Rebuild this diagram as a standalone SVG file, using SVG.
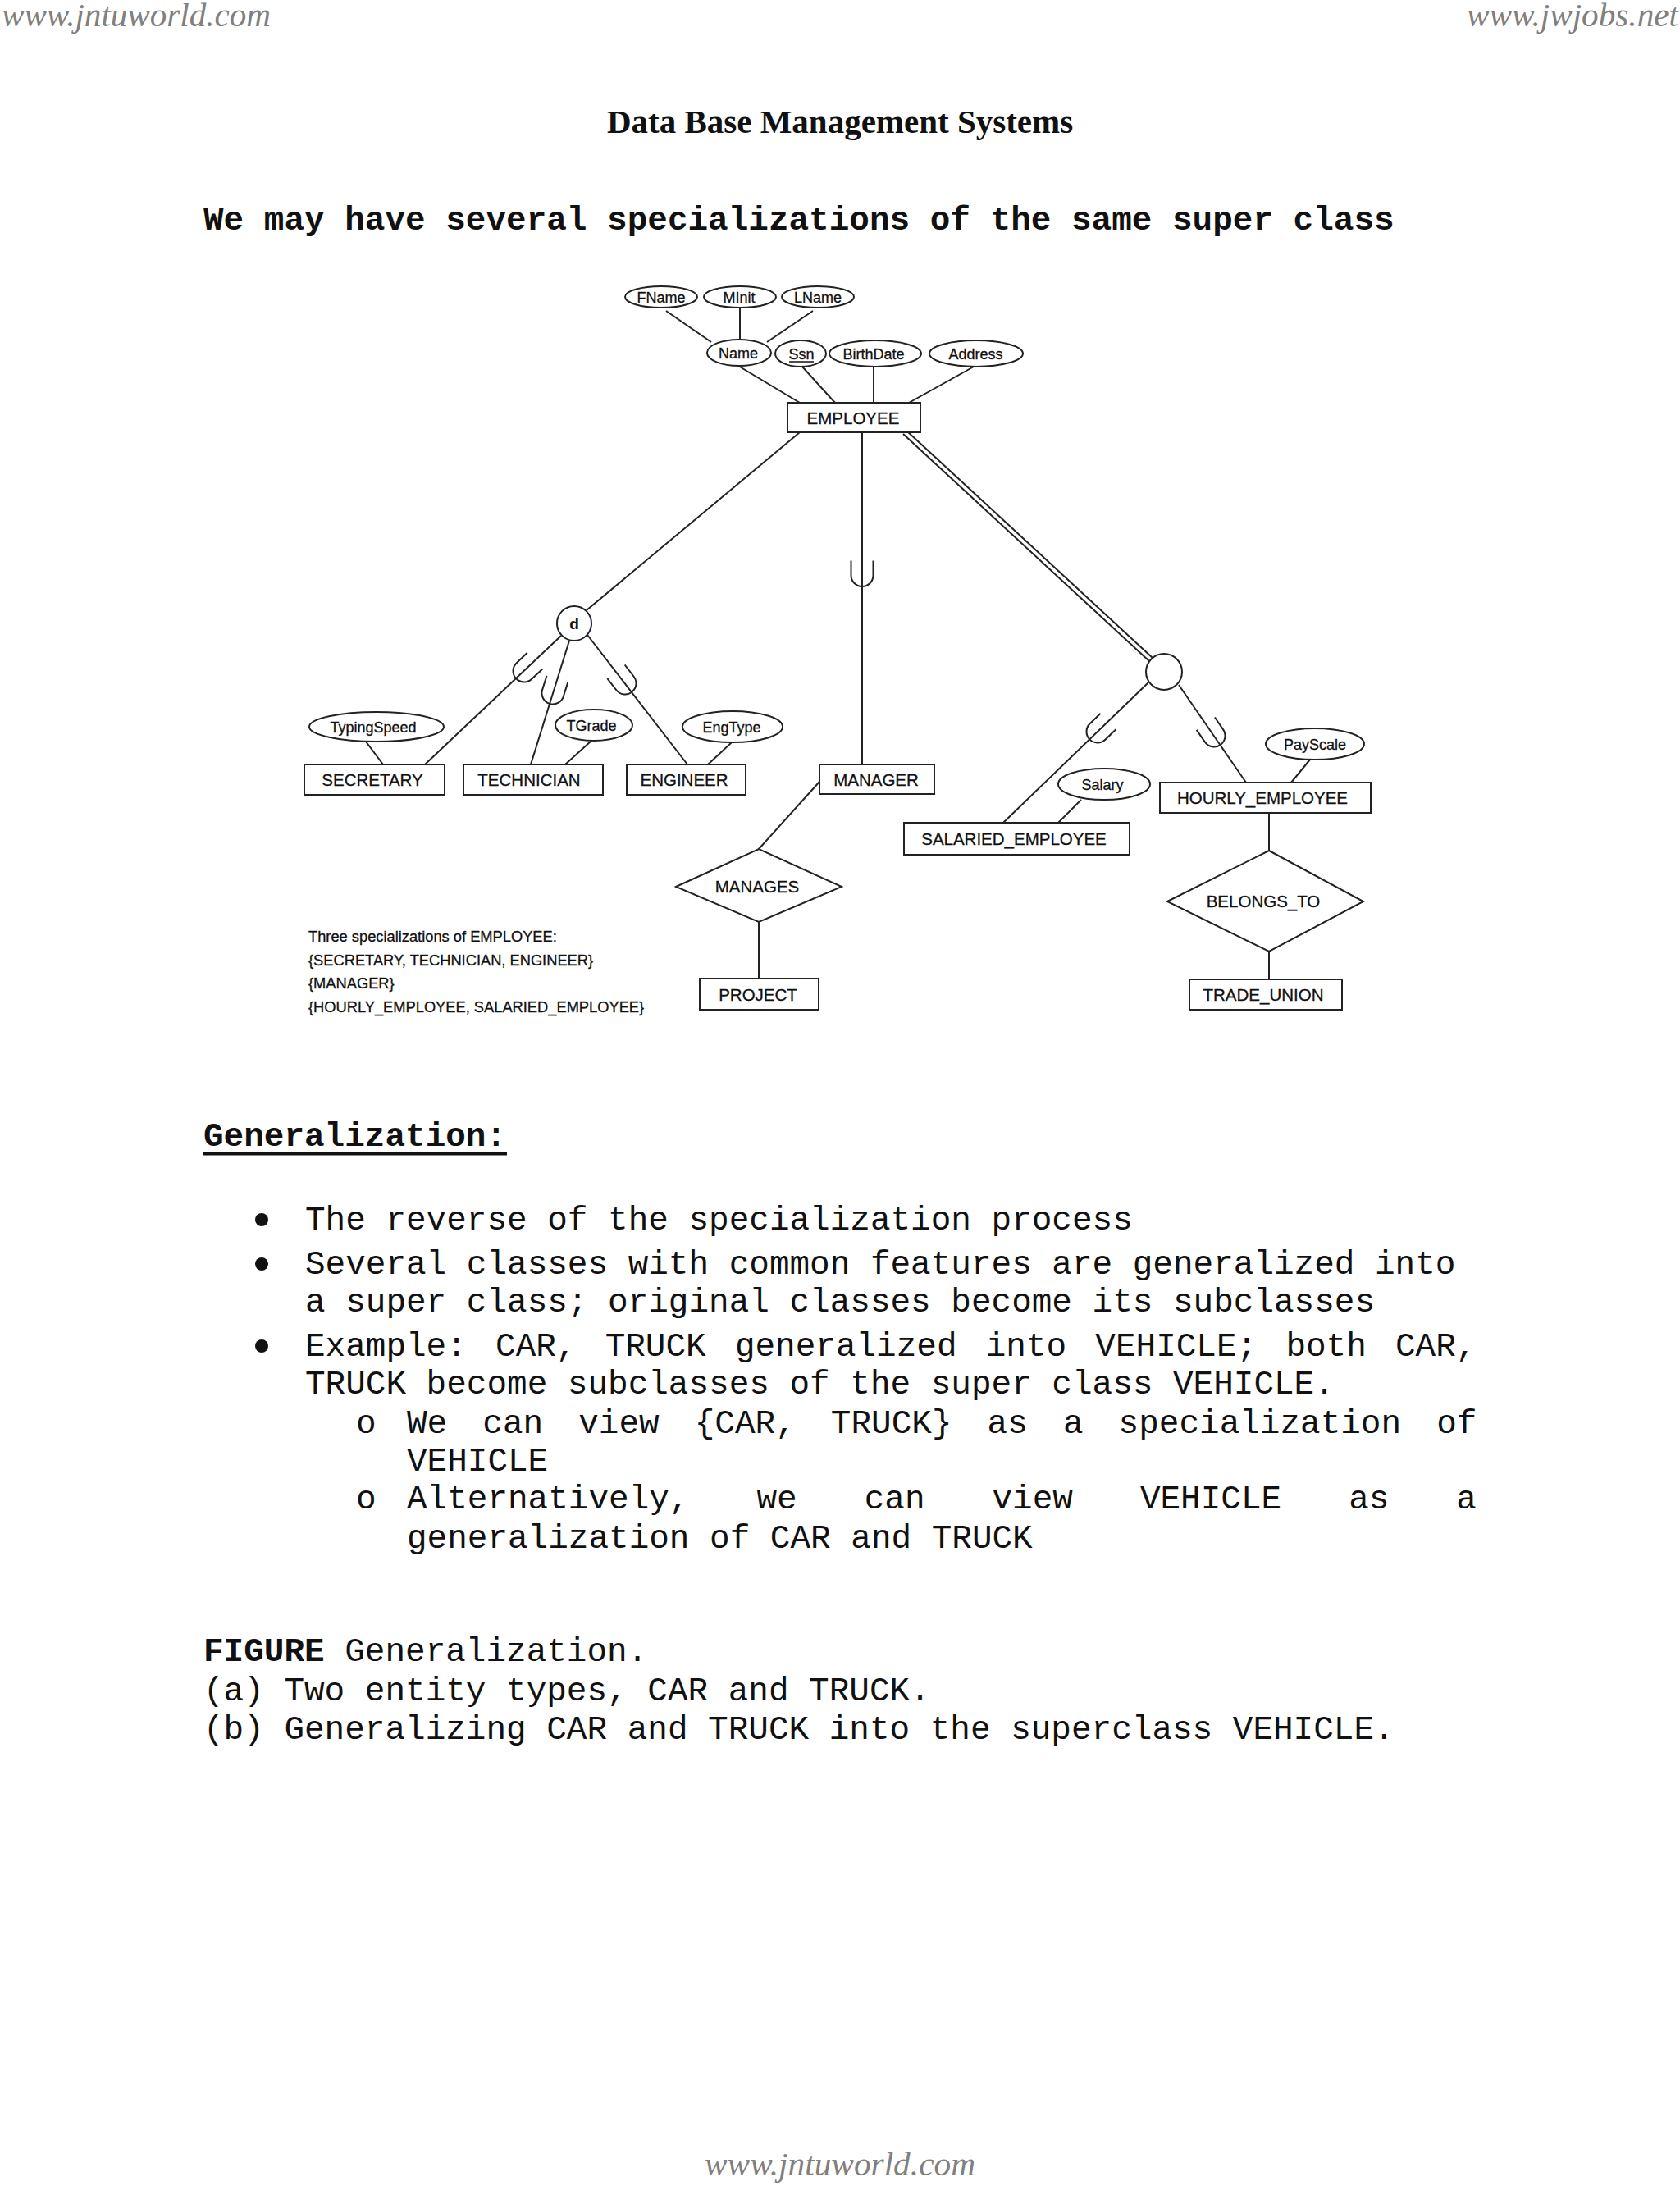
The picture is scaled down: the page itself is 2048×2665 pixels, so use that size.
<svg xmlns="http://www.w3.org/2000/svg" xmlns:xlink="http://www.w3.org/1999/xlink" width="2048" height="2665" viewBox="0 0 2048 2665">
<style>
.bg{fill:#fff}
.ent{fill:#fff;stroke:#222;stroke-width:2}
.ln{stroke:#222;stroke-width:2;fill:none}
.t{font-family:"Liberation Sans",Arial,sans-serif;fill:#111;stroke:#111;stroke-width:0.3}
.lbl{font-size:20.5px;text-anchor:middle}
.att{font-size:18px;text-anchor:middle}
.note{font-size:18.3px}
.mono{font-family:"Liberation Mono","Courier New",monospace;font-size:41px;fill:#111}
.wm{font-family:"Liberation Serif","Times New Roman",serif;font-style:italic;font-size:40px;fill:#808080}
</style>
<defs>
<path id="u" d="M-13.5,-18 V0 A13.5,13.5 0 0 0 13.5,0 V-18" class="ln"/>
</defs>
<rect class="bg" x="0" y="0" width="2048" height="2665"/>

<g id="page-text">
<text class="wm" x="2" y="32" textLength="328" lengthAdjust="spacingAndGlyphs">www.jntuworld.com</text>
<text class="wm" x="2046" y="32" text-anchor="end" textLength="258" lengthAdjust="spacingAndGlyphs">www.jwjobs.net</text>
<text x="1024" y="162" text-anchor="middle" font-family="Liberation Serif, Times New Roman, serif" font-weight="bold" font-size="41" fill="#111">Data Base Management Systems</text>
<text class="mono" x="248" y="280" font-weight="bold">We may have several specializations of the same super class</text>

<text class="mono" x="248" y="1397" font-weight="bold">Generalization:</text>
<rect x="248" y="1405" width="370" height="3.5" fill="#111"/>

<circle cx="319" cy="1487" r="8" fill="#111"/>
<circle cx="319" cy="1541" r="8" fill="#111"/>
<circle cx="319" cy="1641" r="8" fill="#111"/>
<text class="mono" x="372" y="1499">The reverse of the specialization process</text>
<text class="mono" x="372" y="1553">Several classes with common features are generalized into</text>
<text class="mono" x="372" y="1599">a super class; original classes become its subclasses</text>
<text class="mono" x="372" y="1653" word-spacing="10.6">Example: CAR, TRUCK generalized into VEHICLE; both CAR,</text>
<text class="mono" x="372" y="1699">TRUCK become subclasses of the super class VEHICLE.</text>
<text class="mono" x="434" y="1747">o</text>
<text class="mono" x="496" y="1747" word-spacing="18.5">We can view {CAR, TRUCK} as a specialization of</text>
<text class="mono" x="496" y="1793">VEHICLE</text>
<text class="mono" x="434" y="1839">o</text>
<text class="mono" x="496" y="1839" word-spacing="57.4">Alternatively, we can view VEHICLE as a</text>
<text class="mono" x="496" y="1887">generalization of CAR and TRUCK</text>

<text class="mono" x="248" y="2025"><tspan font-weight="bold">FIGURE</tspan> Generalization.</text>
<text class="mono" x="248" y="2073">(a) Two entity types, CAR and TRUCK.</text>
<text class="mono" x="248" y="2120">(b) Generalizing CAR and TRUCK into the superclass VEHICLE.</text>

<text class="wm" x="1024" y="2652" text-anchor="middle" textLength="330" lengthAdjust="spacingAndGlyphs">www.jntuworld.com</text>
</g>

<g id="connectors">
<line class="ln" x1="812" y1="379" x2="867" y2="417"/>
<line class="ln" x1="902" y1="375" x2="902" y2="414"/>
<line class="ln" x1="991" y1="379" x2="935" y2="417"/>
<line class="ln" x1="900" y1="446" x2="975" y2="491"/>
<line class="ln" x1="978" y1="447" x2="1018" y2="491"/>
<line class="ln" x1="1065" y1="447" x2="1065" y2="491"/>
<line class="ln" x1="1187" y1="447" x2="1108" y2="491"/>
<line class="ln" x1="975" y1="527" x2="715" y2="744"/>
<line class="ln" x1="1051" y1="527" x2="1051" y2="932"/>
<line class="ln" x1="1101" y1="529" x2="1401" y2="806"/>
<line class="ln" x1="1105" y1="525" x2="1405" y2="802"/>
<line class="ln" x1="684" y1="775" x2="518" y2="932"/>
<line class="ln" x1="694" y1="781" x2="647" y2="932"/>
<line class="ln" x1="716" y1="774" x2="838" y2="932"/>
<line class="ln" x1="446" y1="904" x2="467" y2="932"/>
<line class="ln" x1="721" y1="903" x2="689" y2="932"/>
<line class="ln" x1="892" y1="905" x2="863" y2="932"/>
<line class="ln" x1="1400" y1="832" x2="1223" y2="1003"/>
<line class="ln" x1="1437" y1="835" x2="1519" y2="954"/>
<line class="ln" x1="1318" y1="975" x2="1290" y2="1003"/>
<line class="ln" x1="1597" y1="926" x2="1574" y2="954"/>
<line class="ln" x1="999" y1="953" x2="925" y2="1035"/>
<line class="ln" x1="925" y1="1124" x2="925" y2="1193"/>
<line class="ln" x1="1547" y1="991" x2="1547" y2="1037"/>
<line class="ln" x1="1547" y1="1160" x2="1547" y2="1194"/>
<use xlink:href="#u" href="#u" transform="translate(1051,701.5)"/>
<use xlink:href="#u" href="#u" transform="translate(639,818) rotate(46.6)"/>
<use xlink:href="#u" href="#u" transform="translate(674,845) rotate(17.3)"/>
<use xlink:href="#u" href="#u" transform="translate(762,833) rotate(-37.7)"/>
<use xlink:href="#u" href="#u" transform="translate(1338,892) rotate(46)"/>
<use xlink:href="#u" href="#u" transform="translate(1480,897) rotate(-34.6)"/>
</g>

<g id="attr-fname"><ellipse class="ent" cx="806" cy="362" rx="44" ry="13"/><text class="t att" x="806" y="368.5">FName</text></g>
<g id="attr-minit"><ellipse class="ent" cx="902" cy="362" rx="44" ry="13"/><text class="t att" x="901" y="368.5">MInit</text></g>
<g id="attr-lname"><ellipse class="ent" cx="997" cy="362" rx="44" ry="13"/><text class="t att" x="997" y="368.5">LName</text></g>
<g id="attr-name"><ellipse class="ent" cx="901" cy="430" rx="39" ry="16"/><text class="t att" x="900" y="436.5">Name</text></g>
<g id="attr-ssn"><ellipse class="ent" cx="976" cy="431" rx="31" ry="16"/><text class="t att" x="977" y="437.5">Ssn</text><line x1="962" y1="441" x2="992" y2="441" stroke="#111" stroke-width="1.5"/></g>
<g id="attr-birthdate"><ellipse class="ent" cx="1067" cy="431" rx="56" ry="16"/><text class="t att" x="1065" y="437.5">BirthDate</text></g>
<g id="attr-address"><ellipse class="ent" cx="1190" cy="431" rx="57" ry="16"/><text class="t att" x="1189.5" y="437.5">Address</text></g>

<g id="employee"><rect class="ent" x="960" y="491" width="162" height="36"/><text class="t lbl" x="1040" y="516.5">EMPLOYEE</text></g>

<g id="disjoint-d"><circle class="ent" cx="700" cy="760" r="21"/><text x="700" y="767" text-anchor="middle" font-family="Liberation Sans, Arial, sans-serif" font-weight="bold" font-size="19" fill="#111">d</text></g>
<g id="overlap-circle"><circle class="ent" cx="1419" cy="819" r="22"/></g>

<g id="attr-typingspeed"><ellipse class="ent" cx="459" cy="886" rx="82" ry="18"/><text class="t att" x="455" y="892.5">TypingSpeed</text></g>
<g id="attr-tgrade"><ellipse class="ent" cx="724" cy="884" rx="47" ry="19"/><text class="t att" x="721" y="890.5">TGrade</text></g>
<g id="attr-engtype"><ellipse class="ent" cx="893" cy="886" rx="61" ry="19"/><text class="t att" x="892" y="892.5">EngType</text></g>

<g id="secretary"><rect class="ent" x="371" y="932" width="171" height="37"/><text class="t lbl" x="454" y="958">SECRETARY</text></g>
<g id="technician"><rect class="ent" x="565" y="932" width="170" height="37"/><text class="t lbl" x="645" y="958">TECHNICIAN</text></g>
<g id="engineer"><rect class="ent" x="764" y="932" width="145" height="37"/><text class="t lbl" x="834" y="958">ENGINEER</text></g>
<g id="manager"><rect class="ent" x="999" y="932" width="140" height="36"/><text class="t lbl" x="1068" y="957.5">MANAGER</text></g>

<g id="attr-salary"><ellipse class="ent" cx="1346" cy="956" rx="56" ry="19"/><text class="t att" x="1344" y="962.5">Salary</text></g>
<g id="attr-payscale"><ellipse class="ent" cx="1603" cy="907" rx="60" ry="19"/><text class="t att" x="1603" y="913.5">PayScale</text></g>
<g id="hourly-employee"><rect class="ent" x="1414" y="954" width="257" height="37"/><text class="t lbl" x="1539" y="980">HOURLY_EMPLOYEE</text></g>
<g id="salaried-employee"><rect class="ent" x="1102" y="1003" width="275" height="39"/><text class="t lbl" x="1236" y="1030">SALARIED_EMPLOYEE</text></g>

<g id="manages"><polygon class="ent" points="824,1081 925,1035 1026,1081 925,1124"/><text class="t lbl" x="923" y="1088">MANAGES</text></g>
<g id="project"><rect class="ent" x="853" y="1193" width="145" height="38"/><text class="t lbl" x="924" y="1219.5">PROJECT</text></g>
<g id="belongs-to"><polygon class="ent" points="1423,1099 1547,1037 1662,1099 1547,1160"/><text class="t lbl" x="1540" y="1106">BELONGS_TO</text></g>
<g id="trade-union"><rect class="ent" x="1450" y="1194" width="186" height="37"/><text class="t lbl" x="1540" y="1220">TRADE_UNION</text></g>

<g id="note">
<text class="t note" x="376" y="1148">Three specializations of EMPLOYEE:</text>
<text class="t note" x="376" y="1176.5">{SECRETARY, TECHNICIAN, ENGINEER}</text>
<text class="t note" x="376" y="1205">{MANAGER}</text>
<text class="t note" x="376" y="1233.5">{HOURLY_EMPLOYEE, SALARIED_EMPLOYEE}</text>
</g>
</svg>
